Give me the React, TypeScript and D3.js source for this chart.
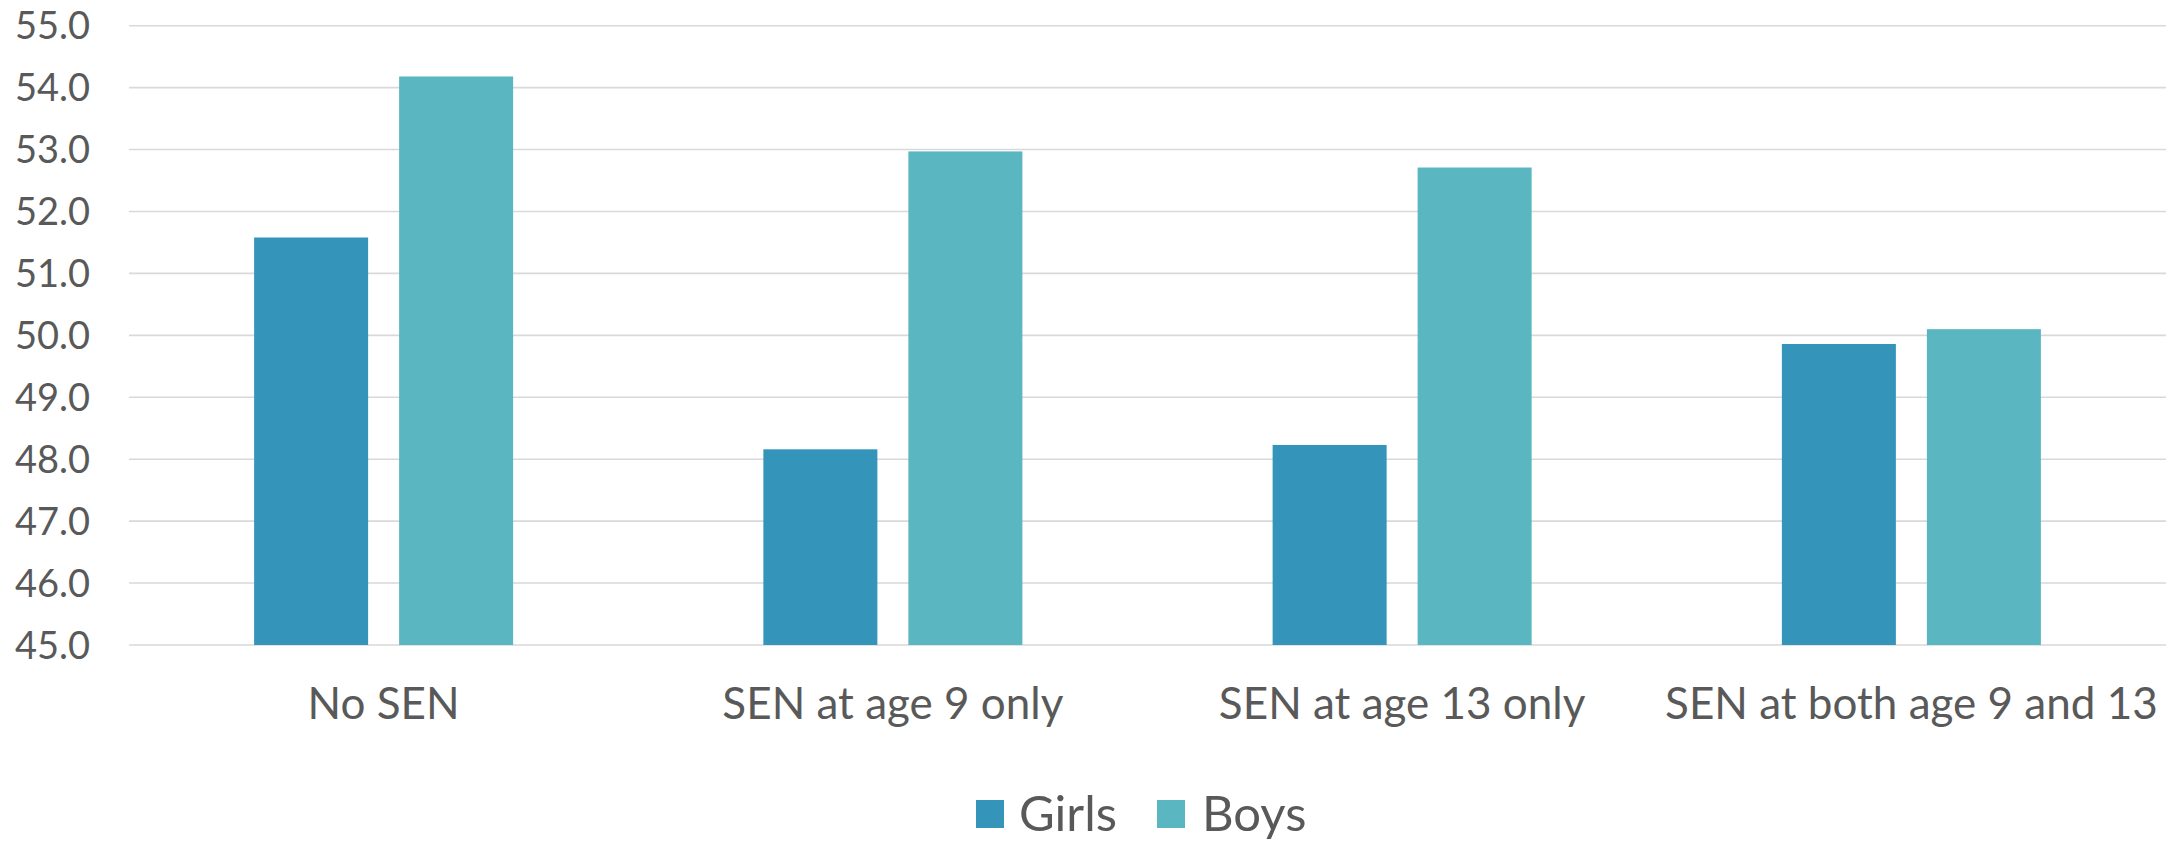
import React, { useEffect } from "react";
import * as d3 from "d3";

const categories = ["No SEN", "SEN at age 9 only", "SEN at age 13 only", "SEN at both age 9 and 13"];
const seriesNames = ["Girls", "Boys"];
const girls = [51.58, 48.16, 48.23, 49.86];
const boys = [54.18, 52.97, 52.71, 50.1];
const yTicks = [45, 46, 47, 48, 49, 50, 51, 52, 53, 54, 55];

const W = 2174;
const H = 842;
const colors = ["#3494B9", "#5AB6C0"];
const textColor = "#595959";
const font = "Lato, 'Open Sans', sans-serif";

export default function App() {
  useEffect(() => {
    document.body.style.margin = "0";
  }, []);

  const x0 = d3
    .scaleBand<string>()
    .domain(categories)
    .range([129, 2166])
    .paddingInner(0.4914)
    .paddingOuter(0.2457);
  const x1 = d3
    .scaleBand<string>()
    .domain(seriesNames)
    .range([0, x0.bandwidth()])
    .paddingInner(0.2138)
    .paddingOuter(0);
  const y = d3.scaleLinear().domain([45, 55]).range([645, 25.7]);
  const values = [girls, boys];
  const fmt = d3.format(".1f");

  const legendItems = [
    { name: seriesNames[0], sx: 976, tx: 1019 },
    { name: seriesNames[1], sx: 1157, tx: 1202 },
  ];

  return (
    <svg width={W} height={H} style={{ display: "block", background: "#fff" }} fontFamily={font}>
      {yTicks.map((t) => (
        <g key={t}>
          <line x1={129} x2={2166} y1={y(t)} y2={y(t)} stroke="#D9D9D9" strokeWidth={1.6} />
          <text x={90} y={y(t)} dy="0.36em" textAnchor="end" fontSize={38} fill={textColor}>
            {fmt(t)}
          </text>
        </g>
      ))}
      {categories.map((c, i) => (
        <g key={c} transform={`translate(${x0(c)},0)`}>
          {seriesNames.map((s, j) => (
            <rect
              key={s}
              x={x1(s)}
              y={y(values[j][i])}
              width={x1.bandwidth()}
              height={y(45) - y(values[j][i])}
              fill={colors[j]}
            />
          ))}
          <text
            x={x0.bandwidth() / 2}
            y={719}
            textAnchor="middle"
            fontSize={44}
            fill={textColor}
          >
            {c}
          </text>
        </g>
      ))}
      {legendItems.map((l, j) => (
        <g key={l.name}>
          <rect x={l.sx} y={800} width={28} height={28} fill={colors[j]} />
          <text x={l.tx} y={831} fontSize={49} fill={textColor}>
            {l.name}
          </text>
        </g>
      ))}
    </svg>
  );
}
